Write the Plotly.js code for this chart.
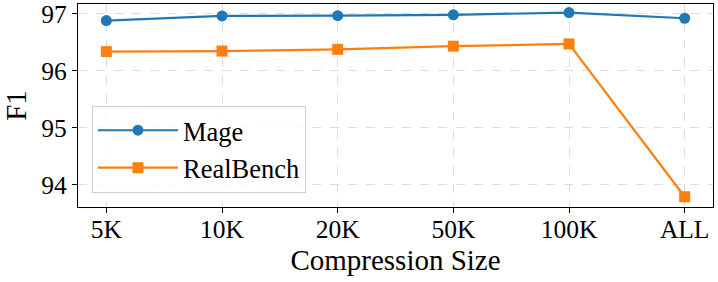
<!DOCTYPE html>
<html>
<head>
<meta charset="utf-8">
<script src="https://cdn.plot.ly/plotly-3.0.1.min.js"></script>
<style>html,body{margin:0;padding:0;background:#fff;}#chart{width:718px;height:282px;}</style>
</head>
<body>
<div id="chart"></div>
<script>
const categories = ["5K", "10K", "20K", "50K", "100K", "ALL"];
const mage = [96.88, 96.96, 96.965, 96.98, 97.02, 96.92];
const realBench = [96.335, 96.345, 96.375, 96.43, 96.47, 93.79];
const yTicks = [94, 95, 96, 97];

const font = "'Liberation Serif', 'Times New Roman', serif";
const traces = [
  {x: categories, y: mage, name: "Mage", type: "scatter", mode: "lines+markers",
   line: {color: "#1f77b4", width: 2.2}, marker: {symbol: "circle", size: 11, color: "#1f77b4"}},
  {x: categories, y: realBench, name: "RealBench", type: "scatter", mode: "lines+markers",
   line: {color: "#ff7f0e", width: 2.2}, marker: {symbol: "square", size: 11, color: "#ff7f0e"}}
];
const layout = {
  width: 718, height: 282,
  margin: {l: 78, r: 5, t: 4, b: 75},
  paper_bgcolor: "#fff", plot_bgcolor: "#fff",
  font: {family: font, size: 25, color: "#000"},
  showlegend: true,
  legend: {x: 0.022, y: 0.5, xanchor: "left", yanchor: "top",
    bgcolor: "rgba(255,255,255,0.8)", bordercolor: "#cccccc", borderwidth: 1,
    font: {family: font, size: 26.5, color: "#000"}, itemwidth: 80, tracegroupgap: 0},
  xaxis: {type: "category", range: [-0.245, 5.245],
    showline: true, mirror: true, linecolor: "#000", linewidth: 1.2,
    ticks: "outside", ticklen: 5, tickcolor: "#000", ticklabelstandoff: -6,
    showgrid: true, gridcolor: "#dcdcdc", griddash: "dash", gridwidth: 1,
    tickfont: {family: font, size: 25.5, color: "#000"},
    title: {text: "Compression Size", font: {family: font, size: 29, color: "#000"}, standoff: 2},
    zeroline: false},
  yaxis: {range: [93.61, 97.17], tickvals: yTicks, ticktext: yTicks.map(String),
    showline: true, mirror: true, linecolor: "#000", linewidth: 1.2,
    ticks: "outside", ticklen: 5, tickcolor: "#000", ticklabeloverflow: "allow",
    showgrid: true, gridcolor: "#dcdcdc", griddash: "dash", gridwidth: 1,
    tickfont: {family: font, size: 25.5, color: "#000"},
    title: {text: "F1", font: {family: font, size: 29, color: "#000"}, standoff: 6},
    zeroline: false}
};
Plotly.newPlot("chart", traces, layout, {displayModeBar: false, staticPlot: true});
</script>
</body>
</html>
